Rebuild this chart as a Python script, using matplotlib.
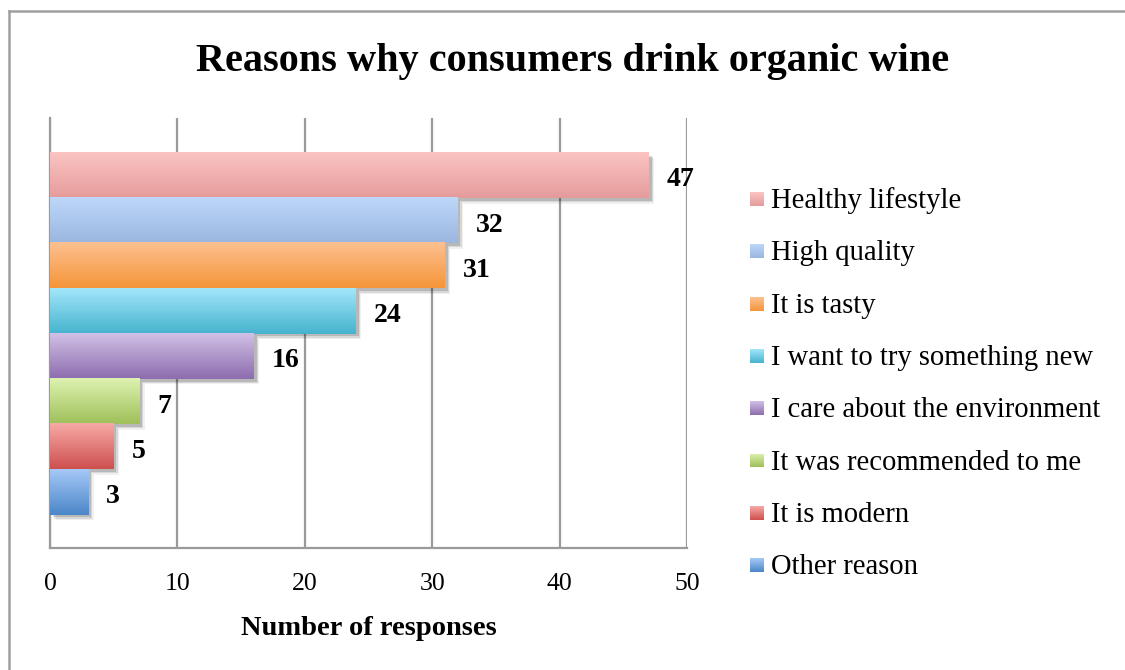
import matplotlib
matplotlib.use("Agg")
import matplotlib.pyplot as plt
import numpy as np
from matplotlib.colors import LinearSegmentedColormap
from matplotlib.lines import Line2D
import matplotlib.patheffects as pe

categories = ["Healthy lifestyle", "High quality", "It is tasty",
              "I want to try something new", "I care about the environment",
              "It was recommended to me", "It is modern", "Other reason"]
values = [47, 32, 31, 24, 16, 7, 5, 3]
top_colors = ["#FBC4C3", "#BDD7FA", "#FDC08F", "#A2E6FA", "#D1C0E6", "#DDF2B0", "#F7A9A7", "#A6C8F7"]
bottom_colors = ["#E49C9B", "#9BB6DF", "#F5963A", "#46B3CE", "#8D6DAE", "#9FC05A", "#CE504D", "#4B87C8"]
xticks = [0, 10, 20, 30, 40, 50]
title = "Reasons why consumers drink organic wine"
xlabel = "Number of responses"

plt.rcParams['font.family'] = ['Liberation Serif', 'DejaVu Serif']

W, H = 1125, 670
fig = plt.figure(figsize=(W / 100, H / 100), dpi=100)
fig.patch.set_facecolor("white")

ax = fig.add_axes([50 / W, 1 - 548 / H, (687 - 50) / W, (548 - 118) / H])

n = len(values)
grad = np.linspace(0, 1, 64).reshape(-1, 1)
for i, (v, tc, bc) in enumerate(zip(values, top_colors, bottom_colors)):
    y = n - 1 - i
    ax.barh(y, v, height=1.0, color="white", zorder=2, linewidth=0,
            path_effects=[pe.SimplePatchShadow(offset=(4, -4), shadow_rgbFace="black", alpha=0.06),
                          pe.SimplePatchShadow(offset=(3, -3), shadow_rgbFace="black", alpha=0.10),
                          pe.SimplePatchShadow(offset=(2, -2), shadow_rgbFace="black", alpha=0.14),
                          pe.Normal()])
    cmap = LinearSegmentedColormap.from_list(f"c{i}", [tc, bc])
    ax.imshow(grad, extent=[0, v, y - 0.5, y + 0.5], aspect="auto", cmap=cmap,
              origin="upper", zorder=3, interpolation="bilinear")
    ax.text(v + 1.4, y - 0.1, str(v), ha="left", va="center", fontsize=20,
            fontweight="bold", zorder=5)

ax.set_xlim(0, 50)
ax.set_ylim(-0.5 - 0.74, n - 0.5 + 0.77)
ax.set_xticks(xticks)
ax.set_xticklabels([str(t) for t in xticks], fontsize=18.5)
ax.set_yticks([])
ax.tick_params(axis="x", length=0, pad=18)
ax.grid(axis="x", color="#9A9A9A", linewidth=1.6, zorder=1)
ax.set_axisbelow(True)
for s in ["top", "right"]:
    ax.spines[s].set_visible(False)
for s in ["left", "bottom"]:
    ax.spines[s].set_color("#9A9A9A")
    ax.spines[s].set_linewidth(1.6)
ax.set_xlabel(xlabel, fontsize=20.5, fontweight="bold", labelpad=15)

fig.text(573 / W, 1 - 62 / H, title, ha="center", va="center", fontsize=29, fontweight="bold")

# legend
leg_y0, leg_dy = 200, 52.3
for i, (cat, tc, bc) in enumerate(zip(categories, top_colors, bottom_colors)):
    yc = leg_y0 + i * leg_dy
    sq = fig.add_axes([750 / W, 1 - (yc + 6) / H, 14 / W, 14 / H])
    cmap = LinearSegmentedColormap.from_list(f"l{i}", [tc, bc])
    sq.imshow(grad, aspect="auto", cmap=cmap, origin="upper")
    sq.set_axis_off()
    fig.text(771 / W, 1 - (yc + 1) / H, cat, ha="left", va="center", fontsize=20.6)

# border
fig.add_artist(Line2D([9 / W, 1], [1 - 11 / H, 1 - 11 / H], transform=fig.transFigure,
                      color="#A0A0A0", linewidth=1.8))
fig.add_artist(Line2D([9 / W, 9 / W], [0, 1 - 11 / H], transform=fig.transFigure,
                      color="#A0A0A0", linewidth=1.8))

fig.savefig("out.png", dpi=100)
